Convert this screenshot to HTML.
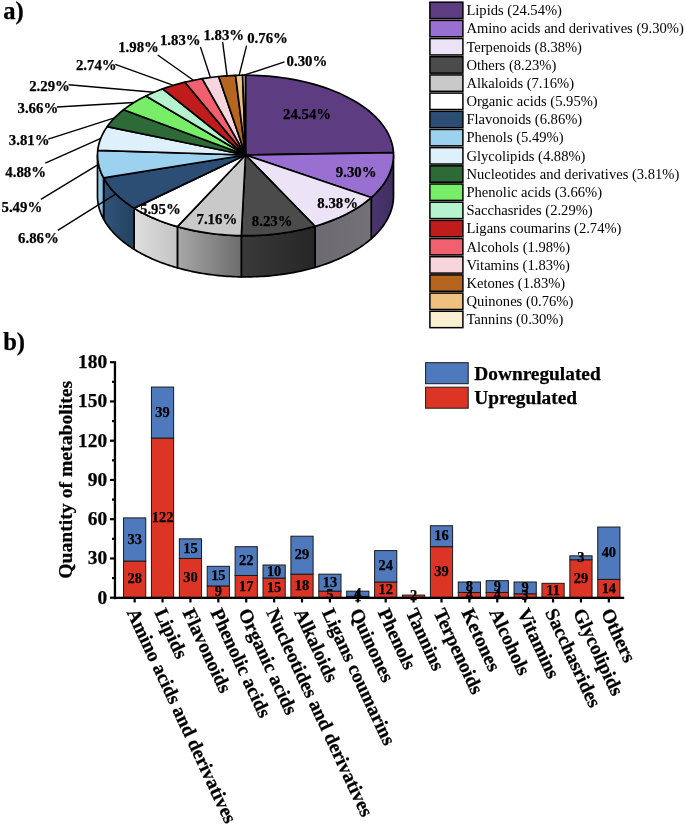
<!DOCTYPE html>
<html><head><meta charset="utf-8"><title>Metabolite classes</title>
<style>html,body{margin:0;padding:0;background:#fff}svg{display:block;will-change:transform}text{font-family:"Liberation Serif",serif}text[font-weight=bold]{stroke:#000;stroke-width:.25px}</style>
</head><body>
<svg width="685" height="826" viewBox="0 0 685 826">
<rect width="685" height="826" fill="#fff"/>
<defs>
<linearGradient id="gAlk" x1="0" x2="1" y1="0" y2="0"><stop offset="0" stop-color="#a8a8a8"/><stop offset="1" stop-color="#6c6c6c"/></linearGradient>
<linearGradient id="gOrg" x1="0" x2="1" y1="0" y2="0"><stop offset="0" stop-color="#dedede"/><stop offset="1" stop-color="#c4c4c4"/></linearGradient>
<linearGradient id="gOth" x1="0" x2="1" y1="0" y2="0"><stop offset="0" stop-color="#3a3a3a"/><stop offset="1" stop-color="#262626"/></linearGradient>
<linearGradient id="gTer" x1="0" x2="1" y1="0" y2="0"><stop offset="0" stop-color="#6c6a70"/><stop offset="1" stop-color="#747278"/></linearGradient>
<linearGradient id="gAmi" x1="0" x2="1" y1="0" y2="0"><stop offset="0" stop-color="#4b366f"/><stop offset="1" stop-color="#3f2d60"/></linearGradient>
<linearGradient id="gFla" x1="0" x2="1" y1="0" y2="0"><stop offset="0" stop-color="#2f547c"/><stop offset="1" stop-color="#25415f"/></linearGradient>
<linearGradient id="gPhe" x1="0" x2="1" y1="0" y2="0"><stop offset="0" stop-color="#9fd0ee"/><stop offset="1" stop-color="#7fb4d8"/></linearGradient>
</defs>
<path d="M393.50,155.00 L393.46,156.87 L393.34,158.73 L393.14,160.60 L392.87,162.46 L392.51,164.32 L392.08,166.17 L391.56,168.02 L390.97,169.86 L390.30,171.69 L389.55,173.51 L388.73,175.32 L387.83,177.12 L386.85,178.91 L385.80,180.69 L384.67,182.46 L383.47,184.20 L382.19,185.94 L380.84,187.65 L379.42,189.35 L377.93,191.03 L376.36,192.69 L374.73,194.34 L373.02,195.96 L371.25,197.55 L371.25,238.75 L373.02,237.16 L374.73,235.54 L376.36,233.89 L377.93,232.23 L379.42,230.55 L380.84,228.85 L382.19,227.14 L383.47,225.40 L384.67,223.66 L385.80,221.89 L386.85,220.11 L387.83,218.32 L388.73,216.52 L389.55,214.71 L390.30,212.89 L390.97,211.06 L391.56,209.22 L392.08,207.37 L392.51,205.52 L392.87,203.66 L393.14,201.80 L393.34,199.93 L393.46,198.07 L393.50,196.20Z" fill="url(#gAmi)" stroke="#000" stroke-width="1.70" stroke-linejoin="round"/>
<path d="M371.25,197.55 L369.51,199.05 L367.71,200.52 L365.85,201.97 L363.93,203.40 L361.95,204.80 L359.92,206.19 L357.83,207.54 L355.69,208.87 L353.50,210.18 L351.25,211.46 L348.96,212.71 L346.61,213.93 L344.21,215.13 L341.77,216.29 L339.28,217.43 L336.75,218.54 L334.17,219.61 L331.55,220.66 L328.89,221.67 L326.18,222.65 L323.44,223.60 L320.66,224.52 L317.85,225.40 L315.00,226.25 L315.00,267.45 L317.85,266.60 L320.66,265.72 L323.44,264.80 L326.18,263.85 L328.89,262.87 L331.55,261.86 L334.17,260.81 L336.75,259.74 L339.28,258.63 L341.77,257.49 L344.21,256.33 L346.61,255.13 L348.96,253.91 L351.25,252.66 L353.50,251.38 L355.69,250.07 L357.83,248.74 L359.92,247.39 L361.95,246.00 L363.93,244.60 L365.85,243.17 L367.71,241.72 L369.51,240.25 L371.25,238.75Z" fill="url(#gTer)" stroke="#000" stroke-width="1.70" stroke-linejoin="round"/>
<path d="M315.00,226.25 L312.17,227.05 L309.31,227.81 L306.41,228.55 L303.49,229.25 L300.55,229.91 L297.57,230.54 L294.58,231.13 L291.56,231.69 L288.52,232.22 L285.46,232.70 L282.38,233.15 L279.28,233.57 L276.17,233.95 L273.04,234.29 L269.90,234.60 L266.75,234.86 L263.59,235.09 L260.42,235.29 L257.25,235.45 L254.07,235.56 L250.88,235.65 L247.69,235.69 L244.50,235.70 L241.32,235.67 L241.32,276.87 L244.50,276.90 L247.69,276.89 L250.88,276.85 L254.07,276.76 L257.25,276.65 L260.42,276.49 L263.59,276.29 L266.75,276.06 L269.90,275.80 L273.04,275.49 L276.17,275.15 L279.28,274.77 L282.38,274.35 L285.46,273.90 L288.52,273.42 L291.56,272.89 L294.58,272.33 L297.57,271.74 L300.55,271.11 L303.49,270.45 L306.41,269.75 L309.31,269.01 L312.17,268.25 L315.00,267.45Z" fill="url(#gOth)" stroke="#000" stroke-width="1.70" stroke-linejoin="round"/>
<path d="M241.32,235.67 L238.54,235.61 L235.77,235.53 L233.01,235.41 L230.25,235.27 L227.49,235.10 L224.74,234.90 L222.00,234.68 L219.26,234.42 L216.54,234.14 L213.82,233.83 L211.12,233.49 L208.42,233.13 L205.74,232.73 L203.08,232.31 L200.43,231.87 L197.79,231.39 L195.18,230.89 L192.58,230.36 L190.00,229.81 L187.43,229.23 L184.89,228.62 L182.37,227.99 L179.87,227.33 L177.40,226.65 L177.40,267.85 L179.87,268.53 L182.37,269.19 L184.89,269.82 L187.43,270.43 L190.00,271.01 L192.58,271.56 L195.18,272.09 L197.79,272.59 L200.43,273.07 L203.08,273.51 L205.74,273.93 L208.42,274.33 L211.12,274.69 L213.82,275.03 L216.54,275.34 L219.26,275.62 L222.00,275.88 L224.74,276.10 L227.49,276.30 L230.25,276.47 L233.01,276.61 L235.77,276.73 L238.54,276.81 L241.32,276.87Z" fill="url(#gAlk)" stroke="#000" stroke-width="1.70" stroke-linejoin="round"/>
<path d="M177.40,226.65 L175.36,226.06 L173.34,225.46 L171.34,224.84 L169.35,224.20 L167.38,223.54 L165.43,222.87 L163.50,222.18 L161.60,221.48 L159.71,220.76 L157.84,220.02 L155.99,219.27 L154.17,218.50 L152.36,217.72 L150.58,216.92 L148.83,216.10 L147.09,215.28 L145.38,214.43 L143.70,213.58 L142.04,212.70 L140.40,211.82 L138.79,210.92 L137.21,210.01 L135.65,209.08 L134.12,208.14 L134.12,249.34 L135.65,250.28 L137.21,251.21 L138.79,252.12 L140.40,253.02 L142.04,253.90 L143.70,254.78 L145.38,255.63 L147.09,256.48 L148.83,257.30 L150.58,258.12 L152.36,258.92 L154.17,259.70 L155.99,260.47 L157.84,261.22 L159.71,261.96 L161.60,262.68 L163.50,263.38 L165.43,264.07 L167.38,264.74 L169.35,265.40 L171.34,266.04 L173.34,266.66 L175.36,267.26 L177.40,267.85Z" fill="url(#gOrg)" stroke="#000" stroke-width="1.70" stroke-linejoin="round"/>
<path d="M134.12,208.14 L132.38,207.04 L130.69,205.92 L129.03,204.79 L127.41,203.64 L125.82,202.48 L124.28,201.30 L122.78,200.10 L121.31,198.90 L119.88,197.67 L118.50,196.44 L117.15,195.19 L115.85,193.92 L114.59,192.65 L113.37,191.36 L112.20,190.06 L111.06,188.75 L109.97,187.43 L108.93,186.09 L107.92,184.75 L106.97,183.40 L106.05,182.04 L105.19,180.67 L104.36,179.29 L103.59,177.90 L103.59,219.10 L104.36,220.49 L105.19,221.87 L106.05,223.24 L106.97,224.60 L107.92,225.95 L108.93,227.29 L109.97,228.63 L111.06,229.95 L112.20,231.26 L113.37,232.56 L114.59,233.85 L115.85,235.12 L117.15,236.39 L118.50,237.64 L119.88,238.87 L121.31,240.10 L122.78,241.30 L124.28,242.50 L125.82,243.68 L127.41,244.84 L129.03,245.99 L130.69,247.12 L132.38,248.24 L134.12,249.34Z" fill="url(#gFla)" stroke="#000" stroke-width="1.70" stroke-linejoin="round"/>
<path d="M103.59,177.90 L103.09,176.97 L102.62,176.04 L102.17,175.11 L101.74,174.17 L101.32,173.23 L100.93,172.28 L100.56,171.34 L100.22,170.39 L99.89,169.44 L99.58,168.48 L99.29,167.53 L99.03,166.57 L98.79,165.61 L98.56,164.65 L98.36,163.69 L98.18,162.73 L98.02,161.77 L97.88,160.80 L97.77,159.84 L97.67,158.87 L97.60,157.90 L97.54,156.94 L97.51,155.97 L97.50,155.00 L97.50,196.20 L97.51,197.17 L97.54,198.14 L97.60,199.10 L97.67,200.07 L97.77,201.04 L97.88,202.00 L98.02,202.97 L98.18,203.93 L98.36,204.89 L98.56,205.85 L98.79,206.81 L99.03,207.77 L99.29,208.73 L99.58,209.68 L99.89,210.64 L100.22,211.59 L100.56,212.54 L100.93,213.48 L101.32,214.43 L101.74,215.37 L102.17,216.31 L102.62,217.24 L103.09,218.17 L103.59,219.10Z" fill="url(#gPhe)" stroke="#000" stroke-width="1.70" stroke-linejoin="round"/>
<path d="M245.50,155.00 L245.50,75.20 L250.16,75.24 L254.81,75.36 L259.45,75.56 L264.08,75.83 L268.69,76.19 L273.28,76.62 L277.84,77.13 L282.36,77.72 L286.86,78.38 L291.31,79.12 L295.71,79.93 L300.07,80.82 L304.37,81.78 L308.61,82.82 L312.79,83.93 L316.91,85.10 L320.95,86.35 L324.92,87.66 L328.81,89.04 L332.61,90.49 L336.34,92.00 L339.97,93.57 L343.51,95.20 L346.95,96.90 L350.29,98.65 L353.52,100.45 L356.65,102.31 L359.67,104.22 L362.58,106.18 L365.37,108.19 L368.04,110.25 L370.59,112.35 L373.02,114.49 L375.32,116.68 L377.49,118.90 L379.53,121.16 L381.44,123.45 L383.21,125.77 L384.85,128.12 L386.35,130.50 L387.71,132.90 L388.93,135.32 L390.01,137.76 L390.94,140.22 L391.73,142.70 L392.38,145.19 L392.88,147.68 L393.23,150.19 L393.44,152.69Z" fill="#5d3c82" stroke="#000" stroke-width="1.70" stroke-linejoin="round"/>
<path d="M245.50,155.00 L393.44,152.69 L393.50,155.29 L393.40,157.91 L393.15,160.52 L392.75,163.13 L392.18,165.73 L391.47,168.32 L390.60,170.90 L389.58,173.46 L388.40,176.00 L387.08,178.52 L385.60,181.01 L383.98,183.48 L382.21,185.91 L380.30,188.32 L378.24,190.69 L376.05,193.02 L373.72,195.31 L371.25,197.55Z" fill="#9a6fd2" stroke="#000" stroke-width="1.70" stroke-linejoin="round"/>
<path d="M245.50,155.00 L371.25,197.55 L368.62,199.79 L365.85,201.97 L362.95,204.11 L359.92,206.19 L356.77,208.21 L353.50,210.18 L350.11,212.09 L346.61,213.93 L343.00,215.71 L339.28,217.43 L335.46,219.08 L331.55,220.66 L327.54,222.17 L323.44,223.60 L319.26,224.96 L315.00,226.25Z" fill="#ece4f6" stroke="#000" stroke-width="1.70" stroke-linejoin="round"/>
<path d="M245.50,155.00 L315.00,226.25 L310.74,227.44 L306.41,228.55 L302.02,229.58 L297.57,230.54 L293.07,231.42 L288.52,232.22 L283.92,232.93 L279.28,233.57 L274.61,234.12 L269.90,234.60 L265.17,234.98 L260.42,235.29 L255.66,235.51 L250.88,235.65 L246.10,235.70 L241.32,235.67Z" fill="#4b4b4b" stroke="#000" stroke-width="1.70" stroke-linejoin="round"/>
<path d="M245.50,155.00 L241.32,235.67 L236.57,235.55 L231.82,235.35 L227.10,235.07 L222.39,234.71 L217.70,234.26 L213.05,233.74 L208.42,233.13 L203.84,232.44 L199.30,231.67 L194.80,230.82 L190.36,229.89 L185.98,228.89 L181.66,227.81 L177.40,226.65Z" fill="#c9c9c9" stroke="#000" stroke-width="1.70" stroke-linejoin="round"/>
<path d="M245.50,155.00 L177.40,226.65 L172.97,225.35 L168.63,223.96 L164.38,222.50 L160.22,220.96 L156.16,219.34 L152.20,217.65 L148.35,215.88 L144.61,214.05 L140.99,212.14 L137.49,210.17 L134.12,208.14Z" fill="#ffffff" stroke="#000" stroke-width="1.70" stroke-linejoin="round"/>
<text x="140.0" y="213.7" font-family="Liberation Serif, serif" font-weight="bold" font-size="14.80" text-anchor="start" fill="#000">5.95%</text>
<path d="M245.50,155.00 L134.12,208.14 L130.95,206.10 L127.90,204.00 L124.99,201.85 L122.21,199.64 L119.56,197.39 L117.05,195.09 L114.69,192.74 L112.46,190.36 L110.39,187.94 L108.46,185.47 L106.68,182.98 L105.06,180.46 L103.59,177.90Z" fill="#2c4e74" stroke="#000" stroke-width="1.70" stroke-linejoin="round"/>
<path d="M245.50,155.00 L103.59,177.90 L102.22,175.22 L101.03,172.52 L100.01,169.79 L99.16,167.04 L98.48,164.28 L97.98,161.51 L97.66,158.74 L97.51,155.95 L97.54,153.19 L97.74,150.44Z" fill="#9cd2f0" stroke="#000" stroke-width="1.70" stroke-linejoin="round"/>
<path d="M245.50,155.00 L97.74,150.44 L98.12,147.73 L98.66,145.03 L99.38,142.33 L100.26,139.66 L101.31,137.00 L102.53,134.36 L103.92,131.75 L105.47,129.16 L107.19,126.61Z" fill="#def0f9" stroke="#000" stroke-width="1.70" stroke-linejoin="round"/>
<path d="M245.50,155.00 L107.19,126.61 L109.07,124.07 L111.11,121.57 L113.31,119.12 L115.66,116.70 L118.16,114.33 L120.82,112.01 L123.62,109.73Z" fill="#2d6a38" stroke="#000" stroke-width="1.70" stroke-linejoin="round"/>
<path d="M245.50,155.00 L123.62,109.73 L126.44,107.60 L129.39,105.51 L132.47,103.49 L135.67,101.51 L138.99,99.59 L142.42,97.74 L145.96,95.94Z" fill="#78ee68" stroke="#000" stroke-width="1.70" stroke-linejoin="round"/>
<path d="M245.50,155.00 L145.96,95.94 L149.97,94.05 L154.09,92.24 L158.34,90.51 L162.70,88.86Z" fill="#b4f3ce" stroke="#000" stroke-width="1.70" stroke-linejoin="round"/>
<path d="M245.50,155.00 L162.70,88.86 L166.97,87.36 L171.33,85.94 L175.79,84.61 L180.32,83.36 L184.94,82.19Z" fill="#c11c1c" stroke="#000" stroke-width="1.70" stroke-linejoin="round"/>
<path d="M245.50,155.00 L184.94,82.19 L189.16,81.21 L193.45,80.30 L197.78,79.46 L202.16,78.70Z" fill="#f0606e" stroke="#000" stroke-width="1.70" stroke-linejoin="round"/>
<path d="M245.50,155.00 L202.16,78.70 L206.25,78.06 L210.36,77.48 L214.51,76.97 L218.68,76.52Z" fill="#f6d6dc" stroke="#000" stroke-width="1.70" stroke-linejoin="round"/>
<path d="M245.50,155.00 L218.68,76.52 L222.88,76.14 L227.09,75.82 L231.32,75.57 L235.56,75.38Z" fill="#b5651d" stroke="#000" stroke-width="1.70" stroke-linejoin="round"/>
<path d="M245.50,155.00 L235.56,75.38 L237.32,75.32 L239.09,75.27 L240.85,75.24 L242.62,75.22Z" fill="#f0c080" stroke="#000" stroke-width="1.70" stroke-linejoin="round"/>
<path d="M245.50,155.00 L242.62,75.22 L243.31,75.21 L244.01,75.20 L244.71,75.20 L245.41,75.20Z" fill="#f8f0d0" stroke="#000" stroke-width="1.70" stroke-linejoin="round"/>
<text x="283.0" y="119.4" font-family="Liberation Serif, serif" font-weight="bold" font-size="14.80" text-anchor="start" fill="#000">24.54%</text>
<text x="335.8" y="177.2" font-family="Liberation Serif, serif" font-weight="bold" font-size="14.80" text-anchor="start" fill="#000">9.30%</text>
<text x="317.3" y="208.2" font-family="Liberation Serif, serif" font-weight="bold" font-size="14.80" text-anchor="start" fill="#000">8.38%</text>
<text x="251.8" y="225.6" font-family="Liberation Serif, serif" font-weight="bold" font-size="14.80" text-anchor="start" fill="#000">8.23%</text>
<text x="196.5" y="224.2" font-family="Liberation Serif, serif" font-weight="bold" font-size="14.80" text-anchor="start" fill="#000">7.16%</text>
<line x1="57.8" y1="230.4" x2="115.9" y2="193.9" stroke="#000" stroke-width="1.4"/>
<text x="18.1" y="243.3" font-family="Liberation Serif, serif" font-weight="bold" font-size="14.80" text-anchor="start" fill="#000">6.86%</text>
<line x1="40.9" y1="199.4" x2="98.5" y2="164.3" stroke="#000" stroke-width="1.4"/>
<text x="1.5" y="212.4" font-family="Liberation Serif, serif" font-weight="bold" font-size="14.80" text-anchor="start" fill="#000">5.49%</text>
<line x1="45.3" y1="163.2" x2="100.8" y2="138.3" stroke="#000" stroke-width="1.4"/>
<text x="5.3" y="177.1" font-family="Liberation Serif, serif" font-weight="bold" font-size="14.80" text-anchor="start" fill="#000">4.88%</text>
<line x1="48.2" y1="139.1" x2="114.5" y2="117.9" stroke="#000" stroke-width="1.4"/>
<text x="8.8" y="144.5" font-family="Liberation Serif, serif" font-weight="bold" font-size="14.80" text-anchor="start" fill="#000">3.81%</text>
<line x1="56.9" y1="107.0" x2="134.1" y2="102.5" stroke="#000" stroke-width="1.4"/>
<text x="17.5" y="113.0" font-family="Liberation Serif, serif" font-weight="bold" font-size="14.80" text-anchor="start" fill="#000">3.66%</text>
<line x1="68.6" y1="84.8" x2="154.1" y2="92.2" stroke="#000" stroke-width="1.4"/>
<text x="29.2" y="90.7" font-family="Liberation Serif, serif" font-weight="bold" font-size="14.80" text-anchor="start" fill="#000">2.29%</text>
<line x1="115.3" y1="64.4" x2="173.5" y2="85.3" stroke="#000" stroke-width="1.4"/>
<text x="75.9" y="69.7" font-family="Liberation Serif, serif" font-weight="bold" font-size="14.80" text-anchor="start" fill="#000">2.74%</text>
<line x1="157.7" y1="55.0" x2="193.4" y2="80.3" stroke="#000" stroke-width="1.4"/>
<text x="118.2" y="52.2" font-family="Liberation Serif, serif" font-weight="bold" font-size="14.80" text-anchor="start" fill="#000">1.98%</text>
<line x1="200.4" y1="46.9" x2="210.4" y2="77.5" stroke="#000" stroke-width="1.4"/>
<text x="159.9" y="44.6" font-family="Liberation Serif, serif" font-weight="bold" font-size="14.80" text-anchor="start" fill="#000">1.83%</text>
<line x1="222.6" y1="41.9" x2="227.1" y2="75.8" stroke="#000" stroke-width="1.4"/>
<text x="203.4" y="40.0" font-family="Liberation Serif, serif" font-weight="bold" font-size="14.80" text-anchor="start" fill="#000">1.83%</text>
<line x1="246.6" y1="45.7" x2="239.1" y2="75.3" stroke="#000" stroke-width="1.4"/>
<text x="247.2" y="43.2" font-family="Liberation Serif, serif" font-weight="bold" font-size="14.80" text-anchor="start" fill="#000">0.76%</text>
<line x1="284.5" y1="61.8" x2="244.0" y2="75.2" stroke="#000" stroke-width="1.4"/>
<text x="286.6" y="66.0" font-family="Liberation Serif, serif" font-weight="bold" font-size="14.80" text-anchor="start" fill="#000">0.30%</text>
<rect x="429.9" y="2.20" width="33" height="16.4" fill="#5d3c82" stroke="#000" stroke-width="1.5"/>
<text x="466.4" y="15.20" font-family="Liberation Serif, serif" font-size="14.58" fill="#000">Lipids (24.54%)</text>
<rect x="429.9" y="20.38" width="33" height="16.4" fill="#9a6fd2" stroke="#000" stroke-width="1.5"/>
<text x="466.4" y="33.38" font-family="Liberation Serif, serif" font-size="14.58" fill="#000">Amino acids and derivatives (9.30%)</text>
<rect x="429.9" y="38.56" width="33" height="16.4" fill="#ece4f6" stroke="#000" stroke-width="1.5"/>
<text x="466.4" y="51.56" font-family="Liberation Serif, serif" font-size="14.58" fill="#000">Terpenoids (8.38%)</text>
<rect x="429.9" y="56.74" width="33" height="16.4" fill="#4b4b4b" stroke="#000" stroke-width="1.5"/>
<text x="466.4" y="69.74" font-family="Liberation Serif, serif" font-size="14.58" fill="#000">Others (8.23%)</text>
<rect x="429.9" y="74.92" width="33" height="16.4" fill="#c9c9c9" stroke="#000" stroke-width="1.5"/>
<text x="466.4" y="87.92" font-family="Liberation Serif, serif" font-size="14.58" fill="#000">Alkaloids (7.16%)</text>
<rect x="429.9" y="93.10" width="33" height="16.4" fill="#ffffff" stroke="#000" stroke-width="1.5"/>
<text x="466.4" y="106.10" font-family="Liberation Serif, serif" font-size="14.58" fill="#000">Organic acids (5.95%)</text>
<rect x="429.9" y="111.28" width="33" height="16.4" fill="#2c4e74" stroke="#000" stroke-width="1.5"/>
<text x="466.4" y="124.28" font-family="Liberation Serif, serif" font-size="14.58" fill="#000">Flavonoids (6.86%)</text>
<rect x="429.9" y="129.46" width="33" height="16.4" fill="#9cd2f0" stroke="#000" stroke-width="1.5"/>
<text x="466.4" y="142.46" font-family="Liberation Serif, serif" font-size="14.58" fill="#000">Phenols (5.49%)</text>
<rect x="429.9" y="147.64" width="33" height="16.4" fill="#def0f9" stroke="#000" stroke-width="1.5"/>
<text x="466.4" y="160.64" font-family="Liberation Serif, serif" font-size="14.58" fill="#000">Glycolipids (4.88%)</text>
<rect x="429.9" y="165.82" width="33" height="16.4" fill="#2d6a38" stroke="#000" stroke-width="1.5"/>
<text x="466.4" y="178.82" font-family="Liberation Serif, serif" font-size="14.58" fill="#000">Nucleotides and derivatives (3.81%)</text>
<rect x="429.9" y="184.00" width="33" height="16.4" fill="#78ee68" stroke="#000" stroke-width="1.5"/>
<text x="466.4" y="197.00" font-family="Liberation Serif, serif" font-size="14.58" fill="#000">Phenolic acids (3.66%)</text>
<rect x="429.9" y="202.18" width="33" height="16.4" fill="#b4f3ce" stroke="#000" stroke-width="1.5"/>
<text x="466.4" y="215.18" font-family="Liberation Serif, serif" font-size="14.58" fill="#000">Sacchasrides (2.29%)</text>
<rect x="429.9" y="220.36" width="33" height="16.4" fill="#c11c1c" stroke="#000" stroke-width="1.5"/>
<text x="466.4" y="233.36" font-family="Liberation Serif, serif" font-size="14.58" fill="#000">Ligans coumarins (2.74%)</text>
<rect x="429.9" y="238.54" width="33" height="16.4" fill="#f0606e" stroke="#000" stroke-width="1.5"/>
<text x="466.4" y="251.54" font-family="Liberation Serif, serif" font-size="14.58" fill="#000">Alcohols (1.98%)</text>
<rect x="429.9" y="256.72" width="33" height="16.4" fill="#f6d6dc" stroke="#000" stroke-width="1.5"/>
<text x="466.4" y="269.72" font-family="Liberation Serif, serif" font-size="14.58" fill="#000">Vitamins (1.83%)</text>
<rect x="429.9" y="274.90" width="33" height="16.4" fill="#b5651d" stroke="#000" stroke-width="1.5"/>
<text x="466.4" y="287.90" font-family="Liberation Serif, serif" font-size="14.58" fill="#000">Ketones (1.83%)</text>
<rect x="429.9" y="293.08" width="33" height="16.4" fill="#f0c080" stroke="#000" stroke-width="1.5"/>
<text x="466.4" y="306.08" font-family="Liberation Serif, serif" font-size="14.58" fill="#000">Quinones (0.76%)</text>
<rect x="429.9" y="311.26" width="33" height="16.4" fill="#f8f0d0" stroke="#000" stroke-width="1.5"/>
<text x="466.4" y="324.26" font-family="Liberation Serif, serif" font-size="14.58" fill="#000">Tannins (0.30%)</text>
<text x="3.2" y="19.2" font-family="Liberation Serif, serif" font-weight="bold" font-size="24.6" fill="#000">a)</text>
<text x="3.2" y="349.5" font-family="Liberation Serif, serif" font-weight="bold" font-size="24.6" fill="#000">b)</text>
<rect x="123.55" y="561.07" width="22.20" height="36.63" fill="#dc3526" stroke="#1a1a1a" stroke-width="1"/>
<rect x="123.55" y="517.89" width="22.20" height="43.17" fill="#4e79bd" stroke="#1a1a1a" stroke-width="1"/>
<rect x="151.44" y="438.08" width="22.20" height="159.62" fill="#dc3526" stroke="#1a1a1a" stroke-width="1"/>
<rect x="151.44" y="387.06" width="22.20" height="51.02" fill="#4e79bd" stroke="#1a1a1a" stroke-width="1"/>
<rect x="179.34" y="558.45" width="22.20" height="39.25" fill="#dc3526" stroke="#1a1a1a" stroke-width="1"/>
<rect x="179.34" y="538.83" width="22.20" height="19.62" fill="#4e79bd" stroke="#1a1a1a" stroke-width="1"/>
<rect x="207.23" y="585.93" width="22.20" height="11.77" fill="#dc3526" stroke="#1a1a1a" stroke-width="1"/>
<rect x="207.23" y="566.30" width="22.20" height="19.62" fill="#4e79bd" stroke="#1a1a1a" stroke-width="1"/>
<rect x="235.13" y="575.46" width="22.20" height="22.24" fill="#dc3526" stroke="#1a1a1a" stroke-width="1"/>
<rect x="235.13" y="546.68" width="22.20" height="28.78" fill="#4e79bd" stroke="#1a1a1a" stroke-width="1"/>
<rect x="263.02" y="578.08" width="22.20" height="19.62" fill="#dc3526" stroke="#1a1a1a" stroke-width="1"/>
<rect x="263.02" y="564.99" width="22.20" height="13.08" fill="#4e79bd" stroke="#1a1a1a" stroke-width="1"/>
<rect x="290.91" y="574.15" width="22.20" height="23.55" fill="#dc3526" stroke="#1a1a1a" stroke-width="1"/>
<rect x="290.91" y="536.21" width="22.20" height="37.94" fill="#4e79bd" stroke="#1a1a1a" stroke-width="1"/>
<rect x="318.81" y="591.16" width="22.20" height="6.54" fill="#dc3526" stroke="#1a1a1a" stroke-width="1"/>
<rect x="318.81" y="574.15" width="22.20" height="17.01" fill="#4e79bd" stroke="#1a1a1a" stroke-width="1"/>
<rect x="346.70" y="596.39" width="22.20" height="1.31" fill="#dc3526" stroke="#1a1a1a" stroke-width="1"/>
<rect x="346.70" y="591.16" width="22.20" height="5.23" fill="#4e79bd" stroke="#1a1a1a" stroke-width="1"/>
<rect x="374.60" y="582.00" width="22.20" height="15.70" fill="#dc3526" stroke="#1a1a1a" stroke-width="1"/>
<rect x="374.60" y="550.60" width="22.20" height="31.40" fill="#4e79bd" stroke="#1a1a1a" stroke-width="1"/>
<rect x="402.49" y="595.08" width="22.20" height="2.62" fill="#dc3526" stroke="#1a1a1a" stroke-width="1"/>
<rect x="430.39" y="546.68" width="22.20" height="51.02" fill="#dc3526" stroke="#1a1a1a" stroke-width="1"/>
<rect x="430.39" y="525.74" width="22.20" height="20.93" fill="#4e79bd" stroke="#1a1a1a" stroke-width="1"/>
<rect x="458.28" y="592.47" width="22.20" height="5.23" fill="#dc3526" stroke="#1a1a1a" stroke-width="1"/>
<rect x="458.28" y="582.00" width="22.20" height="10.47" fill="#4e79bd" stroke="#1a1a1a" stroke-width="1"/>
<rect x="486.17" y="592.47" width="22.20" height="5.23" fill="#dc3526" stroke="#1a1a1a" stroke-width="1"/>
<rect x="486.17" y="580.69" width="22.20" height="11.77" fill="#4e79bd" stroke="#1a1a1a" stroke-width="1"/>
<rect x="514.07" y="593.78" width="22.20" height="3.92" fill="#dc3526" stroke="#1a1a1a" stroke-width="1"/>
<rect x="514.07" y="582.00" width="22.20" height="11.77" fill="#4e79bd" stroke="#1a1a1a" stroke-width="1"/>
<rect x="541.96" y="583.31" width="22.20" height="14.39" fill="#dc3526" stroke="#1a1a1a" stroke-width="1"/>
<rect x="569.86" y="559.76" width="22.20" height="37.94" fill="#dc3526" stroke="#1a1a1a" stroke-width="1"/>
<rect x="569.86" y="555.83" width="22.20" height="3.92" fill="#4e79bd" stroke="#1a1a1a" stroke-width="1"/>
<rect x="597.75" y="579.38" width="22.20" height="18.32" fill="#dc3526" stroke="#1a1a1a" stroke-width="1"/>
<rect x="597.75" y="527.05" width="22.20" height="52.33" fill="#4e79bd" stroke="#1a1a1a" stroke-width="1"/>
<text x="134.65" y="583.48" font-family="Liberation Serif, serif" font-weight="bold" font-size="14.4" text-anchor="middle" fill="#000">28</text>
<text x="134.65" y="543.58" font-family="Liberation Serif, serif" font-weight="bold" font-size="14.4" text-anchor="middle" fill="#000">33</text>
<text x="162.54" y="521.99" font-family="Liberation Serif, serif" font-weight="bold" font-size="14.4" text-anchor="middle" fill="#000">122</text>
<text x="162.54" y="416.67" font-family="Liberation Serif, serif" font-weight="bold" font-size="14.4" text-anchor="middle" fill="#000">39</text>
<text x="190.44" y="582.18" font-family="Liberation Serif, serif" font-weight="bold" font-size="14.4" text-anchor="middle" fill="#000">30</text>
<text x="190.44" y="552.74" font-family="Liberation Serif, serif" font-weight="bold" font-size="14.4" text-anchor="middle" fill="#000">15</text>
<text x="218.33" y="595.91" font-family="Liberation Serif, serif" font-weight="bold" font-size="14.4" text-anchor="middle" fill="#000">9</text>
<text x="218.33" y="580.21" font-family="Liberation Serif, serif" font-weight="bold" font-size="14.4" text-anchor="middle" fill="#000">15</text>
<text x="246.23" y="590.68" font-family="Liberation Serif, serif" font-weight="bold" font-size="14.4" text-anchor="middle" fill="#000">17</text>
<text x="246.23" y="565.17" font-family="Liberation Serif, serif" font-weight="bold" font-size="14.4" text-anchor="middle" fill="#000">22</text>
<text x="274.12" y="591.99" font-family="Liberation Serif, serif" font-weight="bold" font-size="14.4" text-anchor="middle" fill="#000">15</text>
<text x="274.12" y="575.63" font-family="Liberation Serif, serif" font-weight="bold" font-size="14.4" text-anchor="middle" fill="#000">10</text>
<text x="302.01" y="590.03" font-family="Liberation Serif, serif" font-weight="bold" font-size="14.4" text-anchor="middle" fill="#000">18</text>
<text x="302.01" y="559.28" font-family="Liberation Serif, serif" font-weight="bold" font-size="14.4" text-anchor="middle" fill="#000">29</text>
<text x="329.91" y="598.53" font-family="Liberation Serif, serif" font-weight="bold" font-size="14.4" text-anchor="middle" fill="#000">5</text>
<text x="329.91" y="586.75" font-family="Liberation Serif, serif" font-weight="bold" font-size="14.4" text-anchor="middle" fill="#000">13</text>
<text x="357.80" y="601.15" font-family="Liberation Serif, serif" font-weight="bold" font-size="14.4" text-anchor="middle" fill="#000">1</text>
<text x="357.80" y="597.88" font-family="Liberation Serif, serif" font-weight="bold" font-size="14.4" text-anchor="middle" fill="#000">4</text>
<text x="385.70" y="593.95" font-family="Liberation Serif, serif" font-weight="bold" font-size="14.4" text-anchor="middle" fill="#000">12</text>
<text x="385.70" y="570.40" font-family="Liberation Serif, serif" font-weight="bold" font-size="14.4" text-anchor="middle" fill="#000">24</text>
<text x="413.59" y="600.49" font-family="Liberation Serif, serif" font-weight="bold" font-size="14.4" text-anchor="middle" fill="#000">2</text>
<text x="441.49" y="576.29" font-family="Liberation Serif, serif" font-weight="bold" font-size="14.4" text-anchor="middle" fill="#000">39</text>
<text x="441.49" y="540.31" font-family="Liberation Serif, serif" font-weight="bold" font-size="14.4" text-anchor="middle" fill="#000">16</text>
<text x="469.38" y="599.18" font-family="Liberation Serif, serif" font-weight="bold" font-size="14.4" text-anchor="middle" fill="#000">4</text>
<text x="469.38" y="591.33" font-family="Liberation Serif, serif" font-weight="bold" font-size="14.4" text-anchor="middle" fill="#000">8</text>
<text x="497.27" y="599.18" font-family="Liberation Serif, serif" font-weight="bold" font-size="14.4" text-anchor="middle" fill="#000">4</text>
<text x="497.27" y="590.68" font-family="Liberation Serif, serif" font-weight="bold" font-size="14.4" text-anchor="middle" fill="#000">9</text>
<text x="525.17" y="599.84" font-family="Liberation Serif, serif" font-weight="bold" font-size="14.4" text-anchor="middle" fill="#000">3</text>
<text x="525.17" y="591.99" font-family="Liberation Serif, serif" font-weight="bold" font-size="14.4" text-anchor="middle" fill="#000">9</text>
<text x="553.06" y="594.60" font-family="Liberation Serif, serif" font-weight="bold" font-size="14.4" text-anchor="middle" fill="#000">11</text>
<text x="580.96" y="582.83" font-family="Liberation Serif, serif" font-weight="bold" font-size="14.4" text-anchor="middle" fill="#000">29</text>
<text x="580.96" y="561.90" font-family="Liberation Serif, serif" font-weight="bold" font-size="14.4" text-anchor="middle" fill="#000">3</text>
<text x="608.85" y="592.64" font-family="Liberation Serif, serif" font-weight="bold" font-size="14.4" text-anchor="middle" fill="#000">14</text>
<text x="608.85" y="557.32" font-family="Liberation Serif, serif" font-weight="bold" font-size="14.4" text-anchor="middle" fill="#000">40</text>
<rect x="113.8" y="361.2" width="2.3" height="238" fill="#000"/>
<rect x="113.8" y="596.7" width="510.4" height="2.3" fill="#000"/>
<rect x="110" y="596.60" width="4" height="2.2" fill="#000"/>
<text x="107.1" y="603.70" font-family="Liberation Serif, serif" font-weight="bold" font-size="19.4" text-anchor="end" fill="#000">0</text>
<rect x="110" y="557.35" width="4" height="2.2" fill="#000"/>
<text x="107.1" y="564.45" font-family="Liberation Serif, serif" font-weight="bold" font-size="19.4" text-anchor="end" fill="#000">30</text>
<rect x="110" y="518.10" width="4" height="2.2" fill="#000"/>
<text x="107.1" y="525.20" font-family="Liberation Serif, serif" font-weight="bold" font-size="19.4" text-anchor="end" fill="#000">60</text>
<rect x="110" y="478.85" width="4" height="2.2" fill="#000"/>
<text x="107.1" y="485.95" font-family="Liberation Serif, serif" font-weight="bold" font-size="19.4" text-anchor="end" fill="#000">90</text>
<rect x="110" y="439.60" width="4" height="2.2" fill="#000"/>
<text x="107.1" y="446.70" font-family="Liberation Serif, serif" font-weight="bold" font-size="19.4" text-anchor="end" fill="#000">120</text>
<rect x="110" y="400.35" width="4" height="2.2" fill="#000"/>
<text x="107.1" y="407.45" font-family="Liberation Serif, serif" font-weight="bold" font-size="19.4" text-anchor="end" fill="#000">150</text>
<rect x="110" y="361.10" width="4" height="2.2" fill="#000"/>
<text x="107.1" y="368.20" font-family="Liberation Serif, serif" font-weight="bold" font-size="19.4" text-anchor="end" fill="#000">180</text>
<rect x="112" y="576.98" width="2" height="2.2" fill="#000"/>
<rect x="112" y="537.73" width="2" height="2.2" fill="#000"/>
<rect x="112" y="498.48" width="2" height="2.2" fill="#000"/>
<rect x="112" y="459.23" width="2" height="2.2" fill="#000"/>
<rect x="112" y="419.98" width="2" height="2.2" fill="#000"/>
<rect x="112" y="380.73" width="2" height="2.2" fill="#000"/>
<rect x="133.55" y="598.5" width="2.2" height="4" fill="#000"/>
<rect x="161.44" y="598.5" width="2.2" height="4" fill="#000"/>
<rect x="189.34" y="598.5" width="2.2" height="4" fill="#000"/>
<rect x="217.23" y="598.5" width="2.2" height="4" fill="#000"/>
<rect x="245.13" y="598.5" width="2.2" height="4" fill="#000"/>
<rect x="273.02" y="598.5" width="2.2" height="4" fill="#000"/>
<rect x="300.91" y="598.5" width="2.2" height="4" fill="#000"/>
<rect x="328.81" y="598.5" width="2.2" height="4" fill="#000"/>
<rect x="356.70" y="598.5" width="2.2" height="4" fill="#000"/>
<rect x="384.60" y="598.5" width="2.2" height="4" fill="#000"/>
<rect x="412.49" y="598.5" width="2.2" height="4" fill="#000"/>
<rect x="440.39" y="598.5" width="2.2" height="4" fill="#000"/>
<rect x="468.28" y="598.5" width="2.2" height="4" fill="#000"/>
<rect x="496.17" y="598.5" width="2.2" height="4" fill="#000"/>
<rect x="524.07" y="598.5" width="2.2" height="4" fill="#000"/>
<rect x="551.96" y="598.5" width="2.2" height="4" fill="#000"/>
<rect x="579.86" y="598.5" width="2.2" height="4" fill="#000"/>
<rect x="607.75" y="598.5" width="2.2" height="4" fill="#000"/>
<text transform="translate(126.45,612.20) rotate(65)" x="0" y="0" font-family="Liberation Serif, serif" font-weight="bold" font-size="19.4" fill="#000">Amino acids and derivatives</text>
<text transform="translate(154.34,612.20) rotate(65)" x="0" y="0" font-family="Liberation Serif, serif" font-weight="bold" font-size="19.4" fill="#000">Lipids</text>
<text transform="translate(182.24,612.20) rotate(65)" x="0" y="0" font-family="Liberation Serif, serif" font-weight="bold" font-size="19.4" fill="#000">Flavonoids</text>
<text transform="translate(210.13,612.20) rotate(65)" x="0" y="0" font-family="Liberation Serif, serif" font-weight="bold" font-size="19.4" fill="#000">Phenolic acids</text>
<text transform="translate(238.03,612.20) rotate(65)" x="0" y="0" font-family="Liberation Serif, serif" font-weight="bold" font-size="19.4" fill="#000">Organic acids</text>
<text transform="translate(265.92,612.20) rotate(65)" x="0" y="0" font-family="Liberation Serif, serif" font-weight="bold" font-size="19.4" fill="#000">Nucleotides and derivatives</text>
<text transform="translate(293.81,612.20) rotate(65)" x="0" y="0" font-family="Liberation Serif, serif" font-weight="bold" font-size="19.4" fill="#000">Alkaloids</text>
<text transform="translate(321.71,612.20) rotate(65)" x="0" y="0" font-family="Liberation Serif, serif" font-weight="bold" font-size="19.4" fill="#000">Ligans coumarins</text>
<text transform="translate(349.60,612.20) rotate(65)" x="0" y="0" font-family="Liberation Serif, serif" font-weight="bold" font-size="19.4" fill="#000">Quinones</text>
<text transform="translate(377.50,612.20) rotate(65)" x="0" y="0" font-family="Liberation Serif, serif" font-weight="bold" font-size="19.4" fill="#000">Phenols</text>
<text transform="translate(405.39,612.20) rotate(65)" x="0" y="0" font-family="Liberation Serif, serif" font-weight="bold" font-size="19.4" fill="#000">Tannins</text>
<text transform="translate(433.29,612.20) rotate(65)" x="0" y="0" font-family="Liberation Serif, serif" font-weight="bold" font-size="19.4" fill="#000">Terpenoids</text>
<text transform="translate(461.18,612.20) rotate(65)" x="0" y="0" font-family="Liberation Serif, serif" font-weight="bold" font-size="19.4" fill="#000">Ketones</text>
<text transform="translate(489.07,612.20) rotate(65)" x="0" y="0" font-family="Liberation Serif, serif" font-weight="bold" font-size="19.4" fill="#000">Alcohols</text>
<text transform="translate(516.97,612.20) rotate(65)" x="0" y="0" font-family="Liberation Serif, serif" font-weight="bold" font-size="19.4" fill="#000">Vitamins</text>
<text transform="translate(544.86,612.20) rotate(65)" x="0" y="0" font-family="Liberation Serif, serif" font-weight="bold" font-size="19.4" fill="#000">Sacchasrides</text>
<text transform="translate(572.76,612.20) rotate(65)" x="0" y="0" font-family="Liberation Serif, serif" font-weight="bold" font-size="19.4" fill="#000">Glycolipids</text>
<text transform="translate(600.65,612.20) rotate(65)" x="0" y="0" font-family="Liberation Serif, serif" font-weight="bold" font-size="19.4" fill="#000">Others</text>
<text transform="translate(71.90,479.80) rotate(-90)" font-family="Liberation Serif, serif" font-weight="bold" font-size="19.7" text-anchor="middle" fill="#000">Quantity of metabolites</text>
<rect x="425.6" y="362.7" width="42.6" height="21" fill="#4e79bd" stroke="#1a1a1a" stroke-width="1"/>
<rect x="425.6" y="387.2" width="42.6" height="21" fill="#dc3526" stroke="#1a1a1a" stroke-width="1"/>
<text x="474.3" y="379.8" font-family="Liberation Serif, serif" font-weight="bold" font-size="19.34" fill="#000">Downregulated</text>
<text x="474.3" y="404.3" font-family="Liberation Serif, serif" font-weight="bold" font-size="19.34" fill="#000">Upregulated</text>
</svg>
</body></html>
